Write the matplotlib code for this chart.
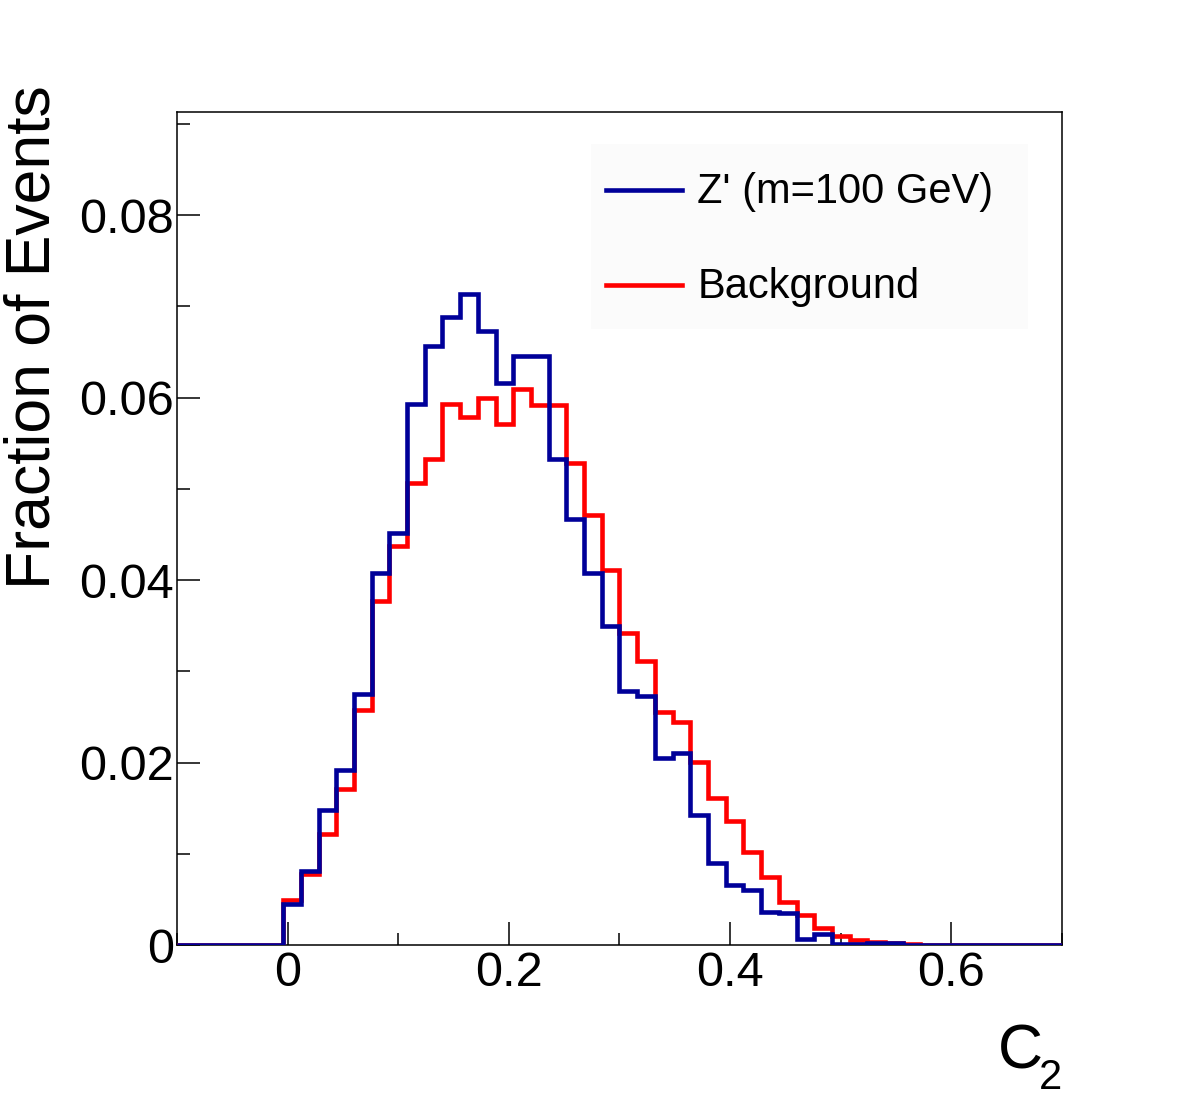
import numpy as np
import matplotlib
matplotlib.use("Agg")
import matplotlib.pyplot as plt
from matplotlib.ticker import MultipleLocator, FuncFormatter
from matplotlib.patches import Rectangle
from matplotlib.lines import Line2D

plt.rcParams['font.family'] = ['Liberation Sans', 'DejaVu Sans']

# 50 bins from -0.1 to 0.7
bin_lo = -0.1
bin_hi = 0.7
n_bins = 50

# fraction of events per bin (first 6 bins are empty)
zprime = [0, 0, 0, 0, 0, 0,
          0.0045, 0.0081, 0.0148, 0.0192, 0.0275, 0.0408, 0.0452, 0.0593,
          0.0656, 0.0688, 0.0714, 0.0673, 0.0616, 0.0646, 0.0646, 0.0533,
          0.0467, 0.0408, 0.0350, 0.0278, 0.0273, 0.0205, 0.0210, 0.0143,
          0.0090, 0.0066, 0.0060, 0.0036, 0.0035, 0.0007, 0.0012, 0.0001,
          0.0001, 0.0002, 0.0002, 0.00005, 0.00005, 0.00003, 0.00003, 0.0,
          0.0, 0.0, 0.0, 0.0]
background = [0, 0, 0, 0, 0, 0,
              0.0049, 0.0078, 0.0122, 0.0171, 0.0258, 0.0377, 0.0437, 0.0506,
              0.0533, 0.0593, 0.0579, 0.0599, 0.0571, 0.0609, 0.0592, 0.0592,
              0.0528, 0.0471, 0.0411, 0.0342, 0.0311, 0.0255, 0.0244, 0.0201,
              0.0161, 0.0136, 0.0102, 0.0075, 0.0047, 0.0033, 0.0019, 0.0010,
              0.0006, 0.0003, 0.0002, 0.0001, 0.00005, 0.00005, 0.00003, 0.00003,
              0.00003, 0.0, 0.0, 0.0]

labels = ["Z' (m=100 GeV)", "Background"]
colors = ['#000099', '#ff0000']

edges = np.linspace(bin_lo, bin_hi, n_bins + 1)

fig = plt.figure(figsize=(11.82, 11.13), dpi=100)
ax = fig.add_axes([0.1497, 0.1509, 0.7488, 0.7485])

ax.stairs(background, edges, color=colors[1], linewidth=3.3, zorder=3)
ax.stairs(zprime, edges, color=colors[0], linewidth=3.3, zorder=4)

ax.set_xlim(bin_lo, bin_hi)
ax.set_ylim(0, 0.0913)

ax.xaxis.set_major_locator(MultipleLocator(0.2))
ax.xaxis.set_minor_locator(MultipleLocator(0.1))
ax.yaxis.set_major_locator(MultipleLocator(0.02))
ax.yaxis.set_minor_locator(MultipleLocator(0.01))

def fmt(v, pos):
    if abs(v) < 1e-9:
        return "0"
    return ("%g" % round(v, 3))
ax.xaxis.set_major_formatter(FuncFormatter(fmt))
ax.yaxis.set_major_formatter(FuncFormatter(fmt))

ax.tick_params(which='both', direction='in', top=False, right=False, width=1.1)
ax.tick_params(which='major', length=16.5, labelsize=35)
ax.tick_params(which='minor', length=9)
ax.tick_params(axis='y', which='major', pad=2)
ax.tick_params(axis='x', which='major', pad=4)
for s in ax.spines.values():
    s.set_linewidth(1.1)

ax.text(-0.1627, 1.0324, "Fraction of Events", transform=ax.transAxes,
        rotation=90, ha='center', va='top', fontsize=45)
# x title C_2, drawn as two pieces
ax.text(0.978, -0.1477, "C", transform=ax.transAxes,
        ha='right', va='baseline', fontsize=45)
ax.text(1.0, -0.1729, "2", transform=ax.transAxes,
        ha='right', va='baseline', fontsize=30)

# legend box
ax.add_patch(Rectangle((0.468, 0.739), 0.493, 0.222, transform=ax.transAxes,
                       facecolor='#fbfbfb', edgecolor='none', zorder=1))
for i in range(2):
    yy = 0.906 - i * 0.114
    ax.add_line(Line2D([0.485, 0.571], [yy, yy], transform=ax.transAxes,
                       color=colors[i], linewidth=3.3, zorder=5))
    ax.text(0.588, yy - 0.002, labels[i], transform=ax.transAxes,
            ha='left', va='center', fontsize=30, zorder=5)

fig.savefig("out.png", dpi=100)
